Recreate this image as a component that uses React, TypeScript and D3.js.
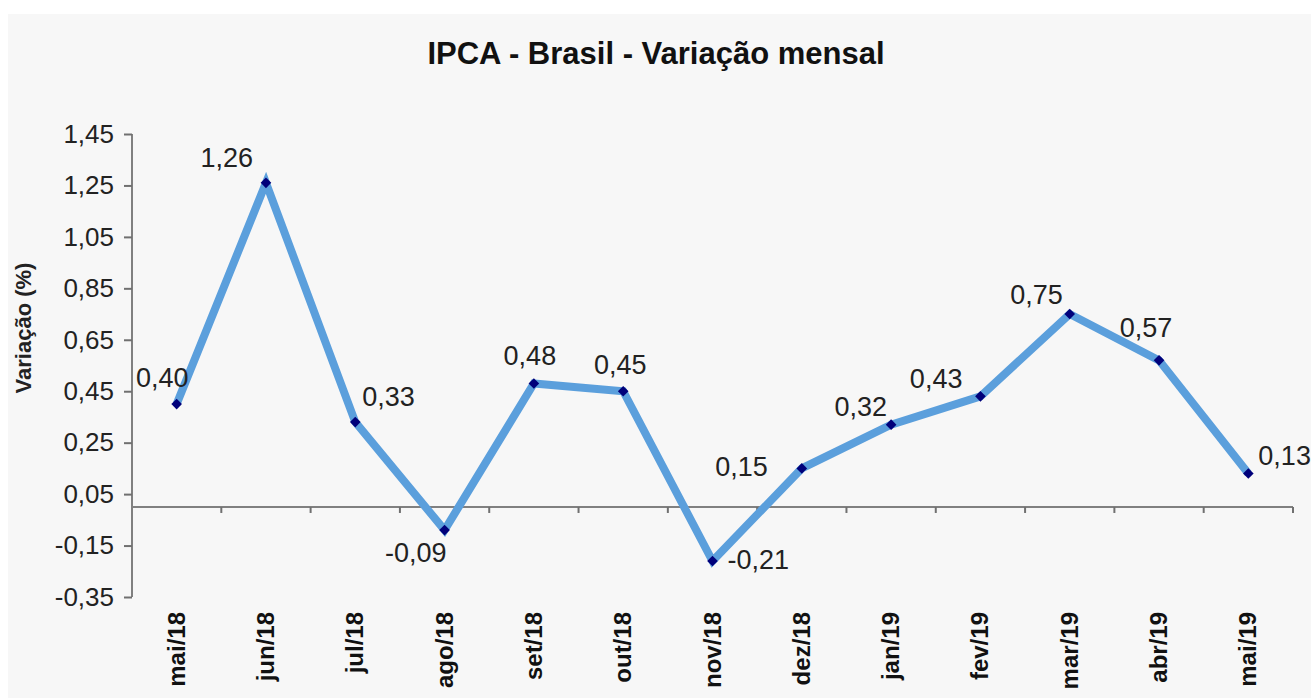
import {useRef, useEffect} from "react";
import * as d3 from "d3";

const months = ["mai/18","jun/18","jul/18","ago/18","set/18","out/18","nov/18","dez/18","jan/19","fev/19","mar/19","abr/19","mai/19"];
const values = [0.40,1.26,0.33,-0.09,0.48,0.45,-0.21,0.15,0.32,0.43,0.75,0.57,0.13];
const yTicks = [1.45,1.25,1.05,0.85,0.65,0.45,0.25,0.05,-0.15,-0.35];
// label placement next to each point: dx, dy, anchor (like Excel put them)
const labelPlace: [number,number,string][] = [
    [12,-17,"end"],[-13,-16,"end"],[7,-16,"start"],[2,32,"end"],[-4,-19,"middle"],[-3,-17,"middle"],
    [15,8,"start"],[-34,8,"end"],[-4,-9,"end"],[-18,-8,"end"],[-7,-10,"end"],[-13,-23,"middle"],[10,-9,"start"]
];

const W = 1311, H = 698;
const FONT = "Liberation Sans, Arial, sans-serif";
const fmt = (v: number) => d3.format(".2f")(v).replace(".", ",").replace("\u2212", "-");

export default function App(){
    const root = useRef<SVGSVGElement>(null);

    useEffect(() => {
        const svg = d3.select(root.current);
        svg.selectAll("*").remove();

        svg.append("rect").attr("x",8).attr("y",14).attr("width",W-8).attr("height",H-14).attr("fill","#f7f7f7");

        const x = d3.scaleBand(months,[132,1293]);
        const y = d3.scaleLinear([-0.35,1.45],[597,134]);

        svg.append("text")
           .attr("x",656).attr("y",64)
           .attr("text-anchor","middle")
           .attr("font-family",FONT)
           .attr("font-weight","bold")
           .attr("font-size",31)
           .attr("fill","#111")
           .text("IPCA  - Brasil - Variação mensal");

        // y axis
        const ya = svg.append("g")
           .attr("transform","translate(132,0)")
           .call(d3.axisLeft(y).tickValues(yTicks).tickSize(8).tickPadding(10).tickFormat(d => fmt(+d)));
        ya.select(".domain").attr("stroke","#808080").attr("stroke-width",2).attr("d","M0,597V134");
        ya.selectAll(".tick line").attr("stroke","#707070").attr("stroke-width",2);
        ya.selectAll(".tick text")
          .attr("font-family",FONT)
          .attr("font-size",26)
          .attr("fill","#222");

        svg.append("text")
           .attr("transform","translate(31,328) rotate(-90)")
           .attr("text-anchor","middle")
           .attr("font-family",FONT)
           .attr("font-weight","bold")
           .attr("font-size",22)
           .attr("fill","#222")
           .text("Variação (%)");

        // x axis at zero
        const xa = svg.append("g")
           .attr("transform","translate(0," + y(0) + ")")
           .call(d3.axisBottom(x).tickSize(0).tickFormat(() => ""));
        xa.select(".domain").attr("stroke","#808080").attr("stroke-width",2).attr("d","M132,0H1293");
        xa.selectAll(".tick").remove();
        xa.selectAll(".sep")
          .data(months)
          .enter()
          .append("line")
          .attr("x1",d => x(d)! + x.step())
          .attr("x2",d => x(d)! + x.step())
          .attr("y1",0).attr("y2",6)
          .attr("stroke","#707070").attr("stroke-width",2);

        svg.append("g")
           .selectAll("text")
           .data(months)
           .enter()
           .append("text")
           .attr("transform",d => "translate(" + (x(d)! + x.bandwidth()/2 + 8) + ",612) rotate(-90)")
           .attr("text-anchor","end")
           .attr("font-family",FONT)
           .attr("font-weight","bold")
           .attr("font-size",24)
           .attr("fill","#111")
           .text(d => d);

        const cx = (i: number) => x(months[i])! + x.bandwidth()/2;

        svg.append("path")
           .datum(values)
           .attr("fill","none")
           .attr("stroke","#5b9fdc")
           .attr("stroke-width",8)
           .attr("stroke-linejoin","miter")
           .attr("d",d3.line<number>().x((_d,i) => cx(i)).y(d => y(d)));

        svg.append("g")
           .selectAll("path")
           .data(values)
           .enter()
           .append("path")
           .attr("transform",(d,i) => "translate(" + cx(i) + "," + y(d) + ")")
           .attr("d",d3.symbol(d3.symbolDiamond2,72)())
           .attr("fill","#00007a");

        svg.append("g")
           .selectAll("text")
           .data(values)
           .enter()
           .append("text")
           .attr("x",(d,i) => cx(i) + labelPlace[i][0])
           .attr("y",(d,i) => y(d) + labelPlace[i][1])
           .attr("text-anchor",(d,i) => labelPlace[i][2])
           .attr("font-family",FONT)
           .attr("font-size",27)
           .attr("fill","#222")
           .text(d => fmt(d));
    }, []);

    return (
      <svg ref={root} width={W} height={H} style={{position:"absolute",left:0,top:0,background:"#fff"}}></svg>
    );
}
